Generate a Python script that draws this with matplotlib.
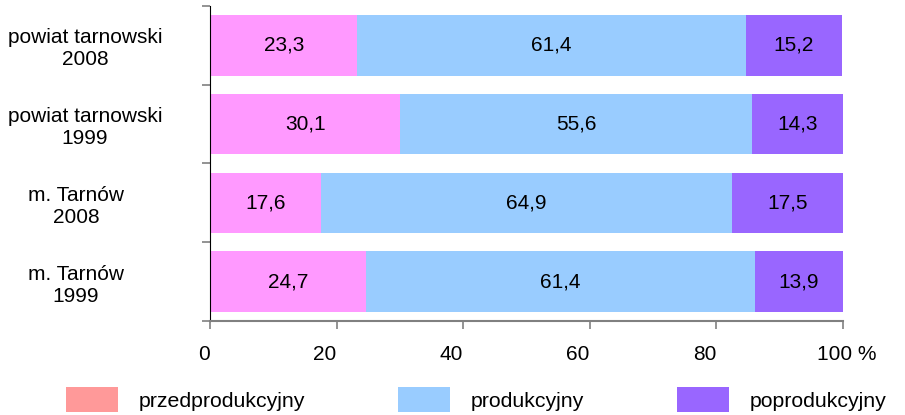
import matplotlib.pyplot as plt
from matplotlib.patches import Patch
from matplotlib.ticker import FixedLocator
from matplotlib.transforms import ScaledTranslation

plt.rcParams["font.family"] = ["Liberation Sans", "DejaVu Sans"]

# top to bottom as in the chart
categories = ["powiat tarnowski\n2008", "powiat tarnowski\n1999", "m. Tarnów\n2008", "m. Tarnów\n1999"]
pre = [23.3, 30.1, 17.6, 24.7]
prod = [61.4, 55.6, 64.9, 61.4]
post = [15.2, 14.3, 17.5, 13.9]
series_names = ["przedprodukcyjny", "produkcyjny", "poprodukcyjny"]
bar_colors = ["#FF99FF", "#99CCFF", "#9966FF"]
legend_colors = ["#FF9999", "#99CCFF", "#9966FF"]
x_ticks = [0, 20, 40, 60, 80, 100]
x_labels = ["0", "20", "40", "60", "80", "100 %"]


def fmt(v):
    return f"{v:.1f}".replace(".", ",")


def main():
    fig = plt.figure(figsize=(9.05, 4.15), dpi=100)
    ax = fig.add_axes([210 / 905, 1 - 321 / 415, 632.7 / 905, 315 / 415])

    n = len(categories)
    ypos = [n - 1 - i for i in range(n)]
    left = [0.0] * n
    for vals, color in zip([pre, prod, post], bar_colors):
        bars = ax.barh(ypos, vals, left=left, height=0.77, color=color, linewidth=0)
        ax.bar_label(bars, labels=[fmt(v) for v in vals], label_type="center", fontsize=15)
        left = [l + v for l, v in zip(left, vals)]

    ax.set_xlim(0, 100)
    ax.set_ylim(-0.5, n - 0.5)

    # category labels at bar centres, tick marks at boundaries
    ax.set_yticks(ypos)
    ax.set_yticklabels(categories, fontsize=15, ha="center", multialignment="center")
    ax.tick_params(axis="y", which="major", length=0, pad=90)
    ax.yaxis.set_minor_locator(FixedLocator([k - 0.5 for k in range(n + 1)]))
    ax.tick_params(axis="y", which="minor", length=6, color="#808080", width=1.2)
    # the "m. Tarnów" labels sit a bit further left in the original
    for lab in ax.get_yticklabels():
        if lab.get_text().startswith("m."):
            lab.set_transform(lab.get_transform() + ScaledTranslation(-9 / 100, 0, fig.dpi_scale_trans))

    ax.set_xticks(x_ticks)
    ax.set_xticklabels(x_labels, fontsize=15, ha="right")
    ax.tick_params(axis="x", length=6, color="#808080", width=1.2, pad=11)
    last = ax.get_xticklabels()[-1]
    last.set_ha("left")
    last.set_transform(last.get_transform() + ScaledTranslation(-26 / 100, 0, fig.dpi_scale_trans))

    for s in ["top", "right"]:
        ax.spines[s].set_visible(False)
    ax.spines["left"].set_color("#000000")
    ax.spines["bottom"].set_color("#808080")
    ax.spines["bottom"].set_linewidth(1.5)

    handles = [Patch(facecolor=c, edgecolor="none") for c in legend_colors]
    fig.legend(handles, series_names, loc="upper left", bbox_to_anchor=(66 / 905, 1 - 387 / 415),
               ncol=3, frameon=False, fontsize=15.3, handlelength=2.45, handleheight=1.45,
               handletextpad=0.95, columnspacing=4.4, borderaxespad=0, borderpad=0)

    fig.savefig("out.png", dpi=100)


if __name__ == "__main__":
    main()
